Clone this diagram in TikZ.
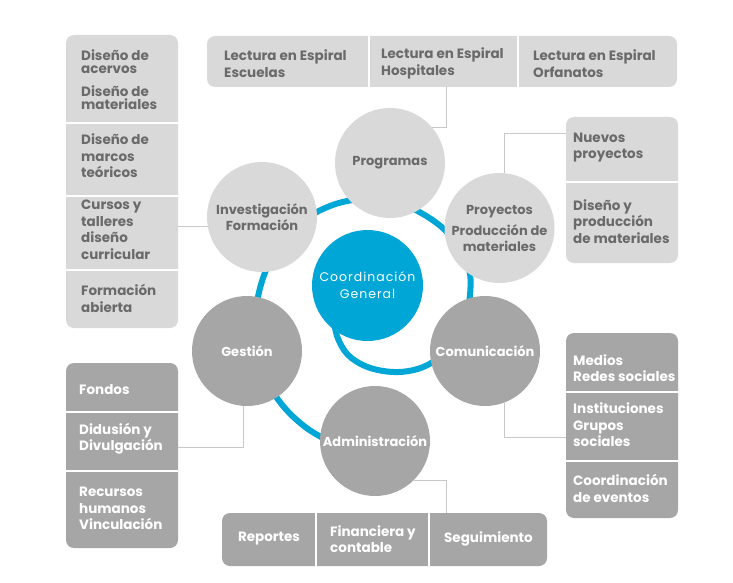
\documentclass[tikz,border=0pt]{standalone}
\usepackage{fontspec}
\setmainfont{Poppins}
\definecolor{lgray}{HTML}{D9D9D9}
\definecolor{dgray}{HTML}{A6A6A6}
\definecolor{ltext}{HTML}{6A6A6A}
\definecolor{cblue}{HTML}{00A6D6}
\definecolor{cgray}{HTML}{C8C8C8}
\newcommand\bxfont{\fontsize{13.5}{16.5}\selectfont\bfseries}
\newcommand\bxtight{\fontsize{13.5}{13.5}\selectfont\bfseries}
\newcommand\cfont{\fontsize{13}{16}\selectfont\bfseries}
\begin{document}
\begin{tikzpicture}[x=1pt,y=-1pt,
  lboxs/.style={rectangle, fill=lgray, rounded corners=8pt, draw=none, inner sep=0},
  dboxs/.style={rectangle, fill=dgray, rounded corners=8pt, draw=none, inner sep=0},
  divline/.style={white, line width=1.6pt},
  conn/.style={draw=cgray, line width=0.9pt},
  lcirc/.style={circle, fill=lgray, minimum size=110pt, inner sep=0, text=ltext, font=\cfont, align=center},
  dcirc/.style={circle, fill=dgray, minimum size=110pt, inner sep=0, text=white, font=\cfont, align=center},
  ltxt/.style={anchor=west, align=left, inner sep=0, text=ltext, font=\bxfont},
  dtxt/.style={anchor=west, align=left, inner sep=0, text=white, font=\bxfont},
  spiral/.style={draw=cblue, line width=6pt}
]
\useasboundingbox (0,0) rectangle (733,583);
\fill[white] (0,0) rectangle (733,583);

% ---- boxes ----
\node[lboxs, minimum width=112pt, minimum height=293pt] (lb) at (122,181.5) {};
\node[lboxs, minimum width=470pt, minimum height=51pt] (tb) at (442,61.5) {};
\node[lboxs, minimum width=112pt, minimum height=146pt] (rtb) at (622,190) {};
\node[dboxs, minimum width=112pt, minimum height=185pt] (rbb) at (622,425.5) {};
\node[dboxs, minimum width=112pt, minimum height=185pt] (lbb) at (122,455.5) {};
\node[dboxs, minimum width=325pt, minimum height=53pt] (bb) at (384.5,539.5) {};

% dividers
\draw[divline] (66,123) -- (178,123);
\draw[divline] (66,196) -- (178,196);
\draw[divline] (66,270) -- (178,270);
\draw[divline] (369,36) -- (369,87);
\draw[divline] (518,36) -- (518,87);
\draw[divline] (566,182) -- (678,182);
\draw[divline] (566,392) -- (678,392);
\draw[divline] (566,461) -- (678,461);
\draw[divline] (66,412) -- (178,412);
\draw[divline] (66,471) -- (178,471);
\draw[divline] (316,513) -- (316,566);
\draw[divline] (429,513) -- (429,566);

% ---- box texts ----
\node[ltxt, font=\bxtight] (l1) at (81,61.5) {Diseño de\\acervos};
\node[ltxt, font=\bxtight] (l2) at (81,97.5) {Diseño de\\materiales};
\node[ltxt] (l3) at (81,156) {Diseño de\\marcos\\teóricos};
\node[ltxt] (l4) at (81,230) {Cursos y\\talleres\\diseño\\curricular};
\node[ltxt] (l5) at (81,298.5) {Formación\\abierta};

\node[ltxt] (t1) at (224,63.5) {Lectura en Espiral\\Escuelas};
\node[ltxt] (t2) at (381,63.5) {Lectura en Espiral\\Hospitales};
\node[ltxt] (t3) at (533,63.5) {Lectura en Espiral\\Orfanatos};

\node[ltxt] (r1) at (573,147.5) {Nuevos\\proyectos};
\node[ltxt] (r2) at (573,221.5) {Diseño y\\producción\\de materiales};

\node[dtxt] (r3) at (573,368) {Medios\\Redes sociales};
\node[dtxt] (r4) at (573,425) {Instituciones\\Grupos\\sociales};
\node[dtxt] (r5) at (573,488.5) {Coordinación\\de eventos};

\node[dtxt] (g1) at (79,389.5) {Fondos};
\node[dtxt] (g2) at (79,438.5) {Didusión y\\Divulgación};
\node[dtxt] (g3) at (79,508.5) {Recursos\\humanos\\Vinculación};

\node[dtxt, anchor=center] (b1) at (269,539) {Reportes};
\node[dtxt, anchor=center] (b2) at (373,539) {Financiera y\\contable};
\node[dtxt, anchor=center] (b3) at (488.5,539) {Seguimiento};

% ---- spiral ----
\draw[spiral] plot[smooth, tension=0.6] coordinates {
 (334,322.8) (338.1,338.9) (347.6,354.5) (363.2,365.2) (382,370.8)
 (402.6,371.8) (423.5,366.9) (442.1,355.1) (456.5,338) (466,317.5)
 (470,295) (469.6,271.5) (460.5,249.7) (446,231) (427.3,216.6)
 (405.9,205.8) (382,199.5) (356.4,199.5) (330.5,205.8) (305.8,218.8)
 (284.4,238.6) (268.4,264.6) (258.4,295) (255,329) (261.2,364.8)
 (277.8,399.2) (305.6,427.3) (341.1,447.6)};

% ---- circles ----
\node[lcirc] (prog) at (390,163) {Programas};
\node[lcirc] (inv) at (262,217) {Investigación\\Formación};
\node[lcirc] (proy) at (499.5,228) {Proyectos\\[5pt]Producción de\\materiales};
\node[circle, fill=cblue, minimum size=111pt, inner sep=0, text=white, align=center,
      font=\fontsize{12.5}{17}\selectfont\addfontfeatures{LetterSpace=8}] (coord) at (367.5,285.5) {Coordinación\\General};
\node[dcirc] (gest) at (247,351) {Gestión};
\node[dcirc] (com) at (485,351) {Comunicación};
\node[dcirc] (adm) at (375,441) {Administración};

% ---- connectors ----
\coordinate (tbc) at (446,87);
\coordinate (rtc) at (566,133);
\coordinate (rbc) at (566,437);
\coordinate (lbc) at (178,447);
\coordinate (bbc) at (446,513);
\draw[conn] (inv.190) -- (inv.190 -| lb.east);
\draw[conn] (prog.40) -| (tbc);
\draw[conn] (proy.85) |- (rtc);
\draw[conn] (com.-69) |- (rbc);
\draw[conn] (gest.-94) |- (lbc);
\draw[conn] (adm.-45) -| (bbc);
\end{tikzpicture}
\end{document}
